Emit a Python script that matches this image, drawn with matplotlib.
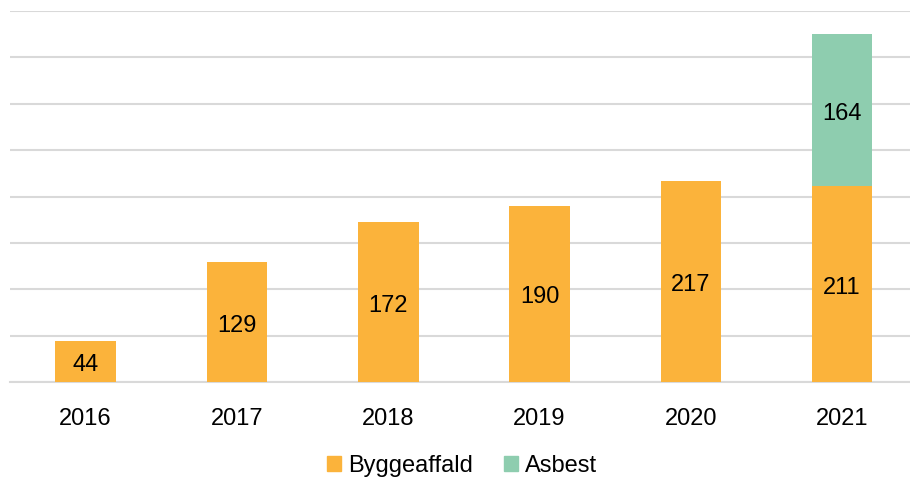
import matplotlib
matplotlib.use('Agg')
from matplotlib import pyplot as plt
from matplotlib.patches import Patch

years = ['2016', '2017', '2018', '2019', '2020', '2021']
byggeaffald = [44, 129, 172, 190, 217, 211]
asbest = [0, 0, 0, 0, 0, 164]

orange = '#fbb33b'
green = '#8ecdaf'

plt.rcParams['font.family'] = ['Liberation Sans', 'DejaVu Sans']

fig = plt.figure(figsize=(9.10, 4.79), dpi=100)
ax = fig.add_axes([10 / 910, 97 / 479, 900 / 910, 371 / 479])

x = list(range(len(years)))
ax.bar(x, byggeaffald, width=0.40, color=orange, zorder=3)
ax.bar(x, asbest, width=0.40, bottom=byggeaffald, color=green, zorder=3)

# tal i søjlerne
for i in x:
    ax.annotate(str(byggeaffald[i]), (i, byggeaffald[i] / 2), xytext=(0, -2.5),
                textcoords='offset points', ha='center', va='center',
                fontsize=17, color='black', zorder=4)
    if asbest[i] > 0:
        ax.annotate(str(asbest[i]), (i, byggeaffald[i] + asbest[i] / 2), xytext=(0, -2.5),
                    textcoords='offset points', ha='center', va='center',
                    fontsize=17, color='black', zorder=4)

ax.set_xlim(-0.5, -0.5 + 900 / 151.3)
ax.set_ylim(0, 400)
ax.set_yticks(range(0, 401, 50))
ax.yaxis.grid(True, color='#d9d9d9', linewidth=1.5, zorder=0)
ax.tick_params(axis='y', left=False, labelleft=False)
ax.tick_params(axis='x', bottom=False, labelsize=17, pad=15)
ax.set_xticks(x)
ax.set_xticklabels(years)
for s in ['top', 'right', 'left']:
    ax.spines[s].set_visible(False)
ax.spines['bottom'].set_color('#d9d9d9')
ax.spines['bottom'].set_linewidth(1.5)

handles = [Patch(color=orange, label='Byggeaffald'), Patch(color=green, label='Asbest')]
fig.legend(handles=handles, loc='center', bbox_to_anchor=(462 / 910, 1 - 466 / 479),
           ncol=2, frameon=False, fontsize=17, handlelength=0.6, handleheight=0.6,
           handletextpad=0.3, columnspacing=1.3)

fig.savefig('out.png', dpi=100)
